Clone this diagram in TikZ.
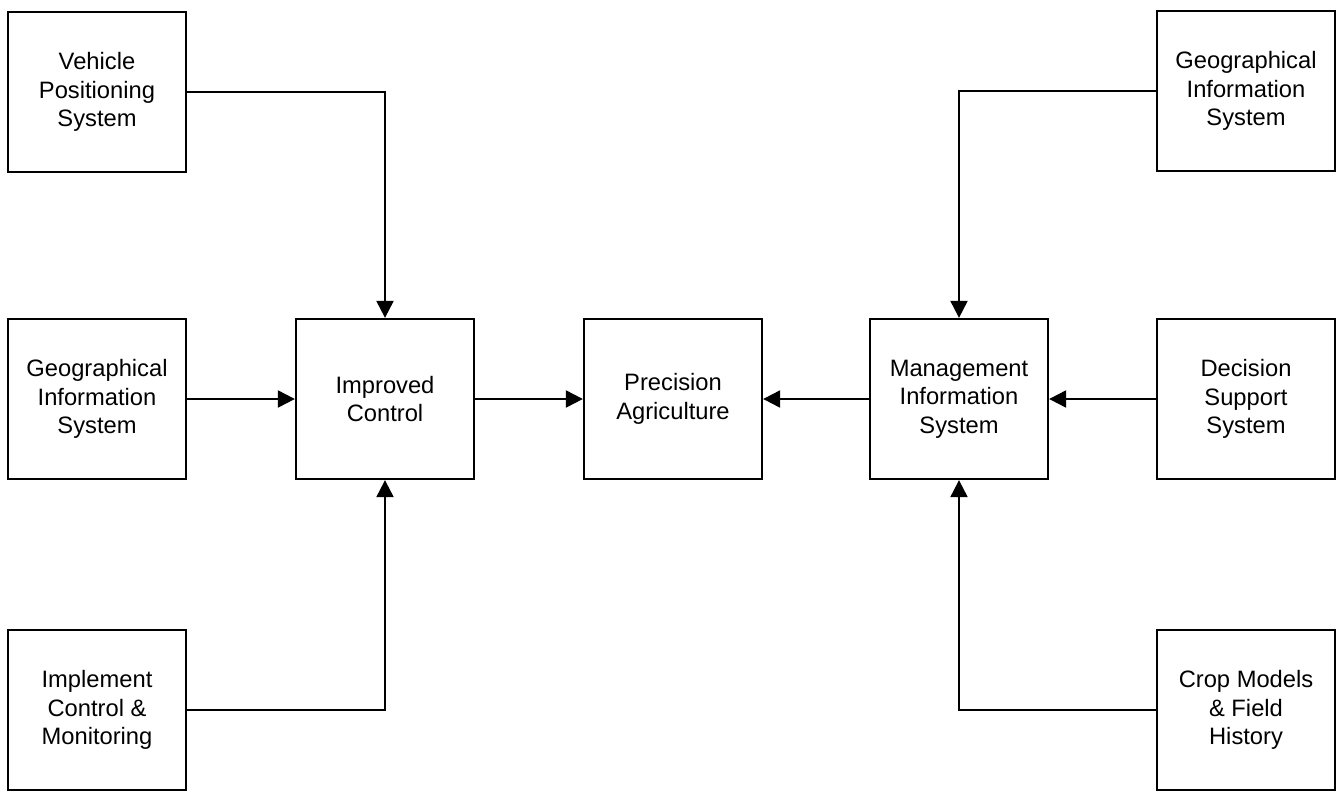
\documentclass[tikz,border=0pt]{standalone}
\usepackage{fontspec}
\setmainfont{Liberation Sans}
\usetikzlibrary{arrows.meta}

\begin{document}
\begin{tikzpicture}[
     every node/.style = {
     	draw, black, line width = 1.3pt, align = center,
     	minimum width = 3.56cm, minimum height = 3.2cm,
     	inner sep = 1pt, font = \fontsize{13.5}{16.2}\selectfont},
     every path/.style = {line width = 1.2pt},
     flow/.style = {-{Triangle[length=0.34cm,width=0.34cm]}}
     ]
       \useasboundingbox (0,0) rectangle (26.82,-15.82);

       \node (vps) at (1.94,-1.84) {Vehicle\\Positioning\\System};
       \node (gisl) at (1.94,-7.98) {Geographical\\Information\\System};
       \node (icm) at (1.94,-14.2) {Implement\\Control \&\\Monitoring};
       \node (ic) at (7.7,-7.98) {Improved\\Control};
       \node (pa) at (13.46,-7.98) {Precision\\Agriculture};
       \node (mis) at (19.18,-7.98) {Management\\Information\\System};
       \node (gisr) at (24.92,-1.82) {Geographical\\Information\\System};
       \node (dss) at (24.92,-7.98) {Decision\\Support\\System};
       \node (cmf) at (24.92,-14.2) {Crop Models\\\& Field\\History};

       \draw[flow] (vps.east) -| (ic.north);
       \draw[flow] (gisl) -- (ic);
       \draw[flow] (icm.east) -| (ic.south);
       \draw[flow] (ic) -- (pa);
       \draw[flow] (mis) -- (pa);
       \draw[flow] (gisr.west) -| (mis.north);
       \draw[flow] (dss) -- (mis);
       \draw[flow] (cmf.west) -| (mis.south);

      \end{tikzpicture}
\end{document}
